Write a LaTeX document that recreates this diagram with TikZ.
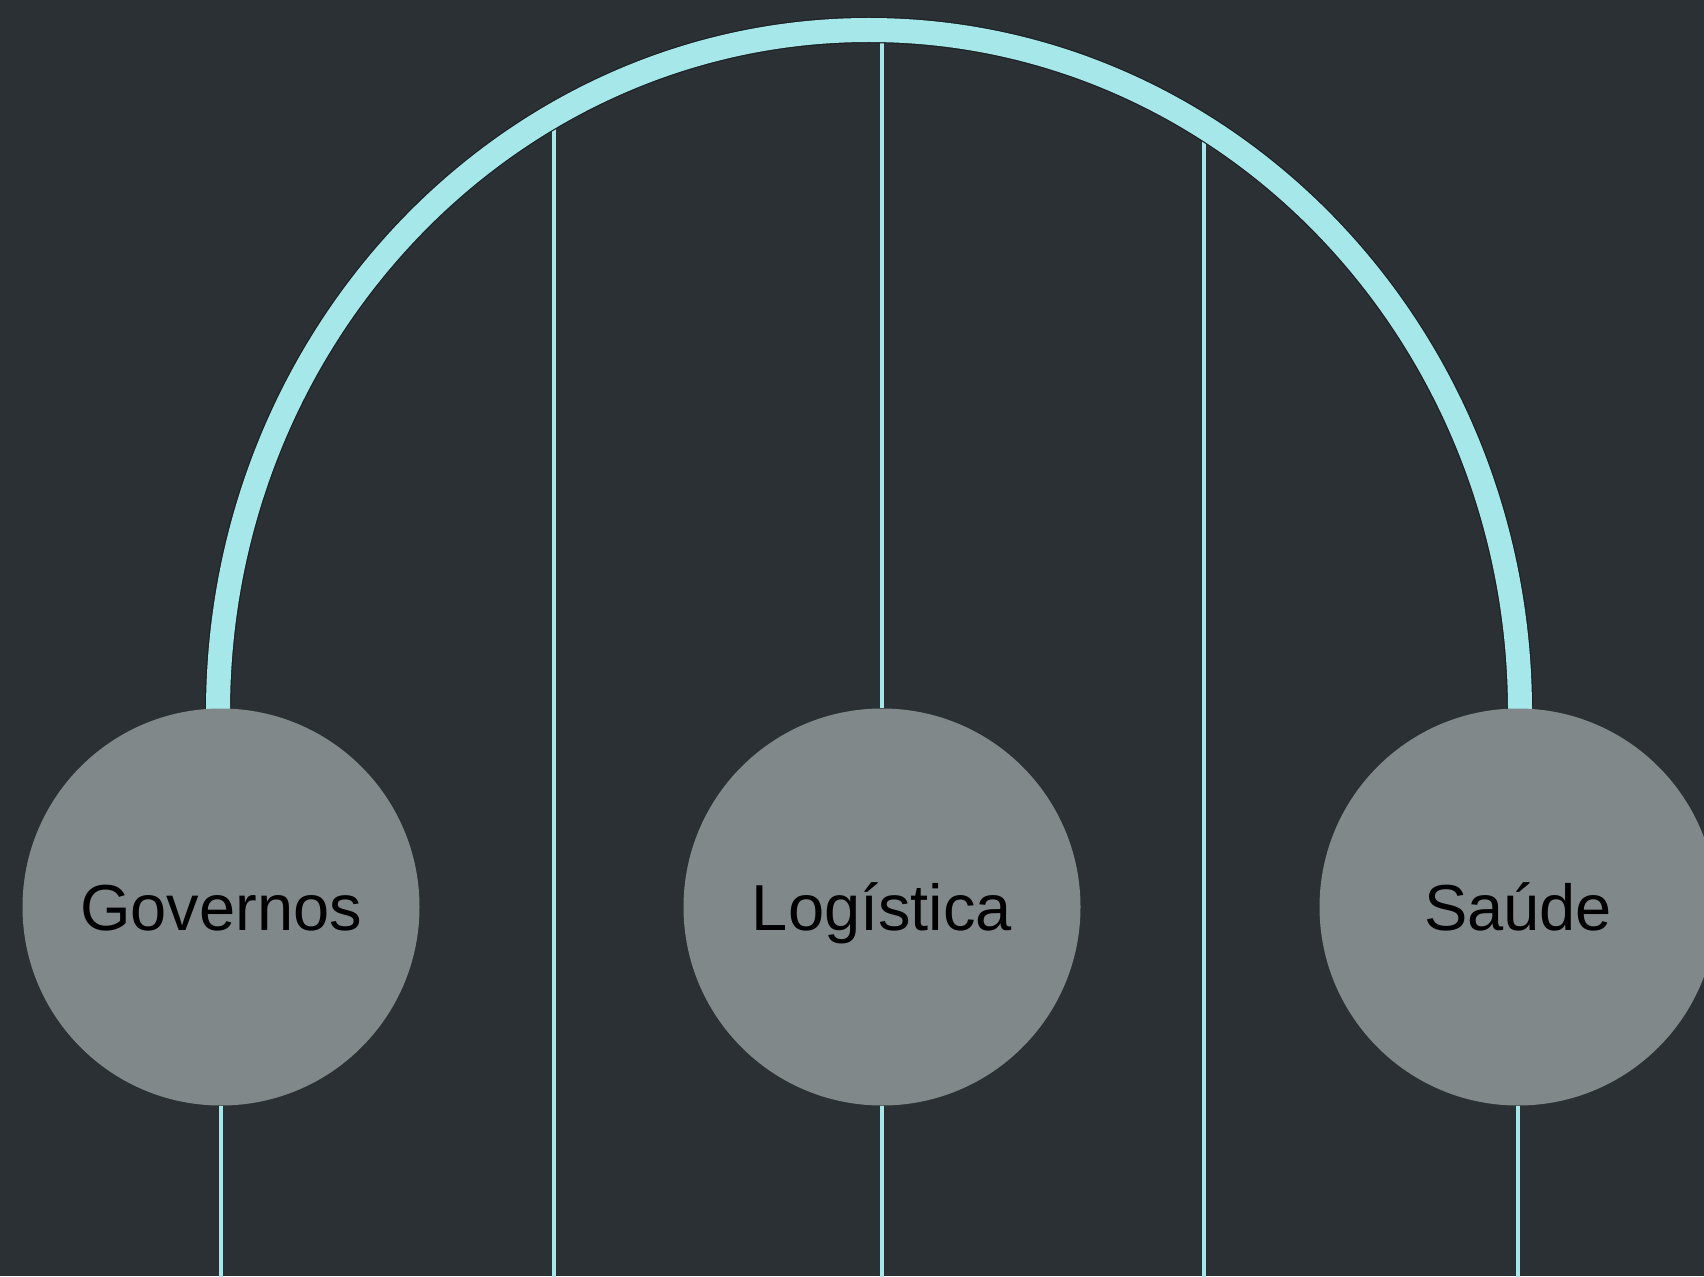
\documentclass[tikz,border=0pt]{standalone}
\usepackage{fontspec}
\setmainfont{Liberation Sans}
\definecolor{bgc}{HTML}{2A3033}
\definecolor{edgec}{HTML}{1B2124}
\definecolor{cyanc}{HTML}{A6E8EA}
\definecolor{discc}{HTML}{81888A}
\pgfdeclarelayer{bglayer}
\pgfdeclarelayer{linelayer}
\pgfsetlayers{bglayer,linelayer,main}
\tikzset{
  disc/.style={circle, fill=discc, minimum size=397pt, inner sep=0pt, font=\fontsize{65}{70}\selectfont, text=black, text height=46.5pt, text depth=0pt},
  thinline/.style={draw=edgec, line width=0.8pt, double=cyanc, double distance=3.2pt},
  bigarc/.style={draw=edgec, line width=1.2pt, double=cyanc, double distance=24pt},
}
\begin{document}
\begin{tikzpicture}[x=1pt,y=1pt]
\begin{pgfonlayer}{bglayer}
  \fill[bgc] (0,0) rectangle (1704,-1276);
\end{pgfonlayer}
\useasboundingbox (0,0) rectangle (1704,-1276);
\node[disc] (gov) at (221,-907) {Governos};
\node[disc] (log) at (882,-907) {Logística};
\node[disc] (sau) at (1518,-907) {Saúde};
\coordinate (govb) at (221,-1280);
\coordinate (logb) at (882,-1280);
\coordinate (saub) at (1518,-1280);
\coordinate (l1t) at (554,-110);
\coordinate (l1b) at (554,-1280);
\coordinate (l2t) at (1204,-120);
\coordinate (l2b) at (1204,-1280);
\coordinate (lmt) at (882,-25);
\coordinate (arcstart) at (218,-712);
\begin{pgfonlayer}{linelayer}
  \draw[thinline] (gov.south) -- (govb);
  \draw[thinline] (log.south) -- (logb);
  \draw[thinline] (sau.south) -- (saub);
  \draw[thinline] (l1t) -- (l1b);
  \draw[thinline] (l2t) -- (l2b);
  \draw[thinline] (lmt) -- (log.north);
  \draw[bigarc] (arcstart) arc[start angle=180, end angle=0, x radius=651pt, y radius=682pt];
\end{pgfonlayer}
\end{tikzpicture}
\end{document}
